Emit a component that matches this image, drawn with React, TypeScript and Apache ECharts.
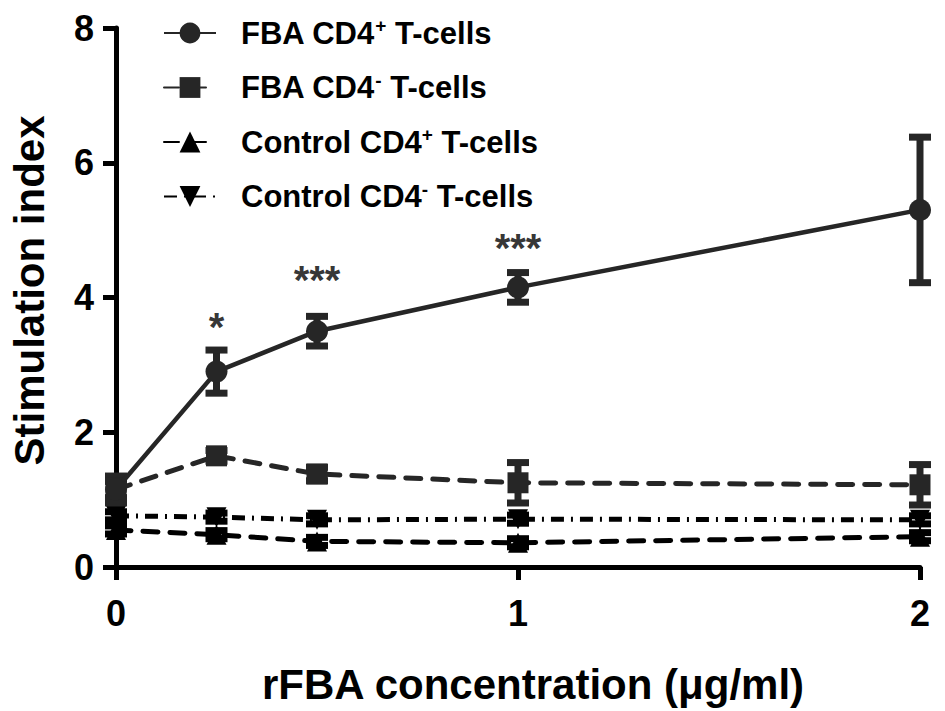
import React, { useEffect, useRef } from "react";
import * as echarts from "echarts";

const concentrations = [0, 0.25, 0.5, 1, 2];
const seriesNames = [
  "FBA CD4+ T-cells",
  "FBA CD4- T-cells",
  "Control CD4+ T-cells",
  "Control CD4- T-cells",
];
const fbaPosMean = [1.15, 2.9, 3.5, 4.15, 5.3];
const fbaPosErr = [0.12, 0.32, 0.22, 0.22, 1.08];
const fbaNegMean = [1.15, 1.65, 1.38, 1.25, 1.22];
const fbaNegErr = [0.2, 0.08, 0.1, 0.3, 0.3];
const ctrlPosMean = [0.55, 0.48, 0.38, 0.36, 0.45];
const ctrlPosErr = [0.06, 0.06, 0.06, 0.06, 0.06];
const ctrlNegMean = [0.76, 0.74, 0.7, 0.71, 0.7];
const ctrlNegErr = [0.06, 0.06, 0.06, 0.06, 0.06];

const sigX = [0.25, 0.5, 1];
const sigY = [3.68, 4.38, 4.86];
const sigLabels = ["*", "***", "***"];

const yTicks = [0, 2, 4, 6, 8];
const xTicks = [0, 1, 2];

const FONT = "Liberation Sans, Arial, Helvetica, sans-serif";

export default function App() {
  const ref = useRef<HTMLDivElement>(null);

  useEffect(() => {
    document.body.style.margin = "0";
    const chart = echarts.init(ref.current!, undefined, { renderer: "svg" });

    const means = [fbaPosMean, fbaNegMean, ctrlPosMean, ctrlNegMean];
    const errs = [fbaPosErr, fbaNegErr, ctrlPosErr, ctrlNegErr];
    const colors = ["#262626", "#262626", "#000000", "#000000"];
    const symbols = ["circle", "rect", "triangle", "triangle"];
    const rotates = [0, 0, 0, 180];
    const sizes = [22, 21, 20, 20];
    const dashes: any[] = ["solid", [15, 12], [15, 12], [13, 7, 2, 7]];
    const caps: any[] = ["butt", "round", "round", "butt"];

    const lineSeries = seriesNames.map((name, i) => ({
      name,
      type: "line",
      data: concentrations.map((c, j) => [c, means[i][j]]),
      symbol: symbols[i],
      symbolRotate: rotates[i],
      symbolSize: sizes[i],
      z: 10 - i,
      itemStyle: { color: colors[i] },
      lineStyle: { color: colors[i], width: i === 0 ? 4.5 : 5, type: dashes[i], cap: caps[i] },
    }));

    const errSeries = seriesNames.map((name, i) => ({
      name: name + " err",
      type: "custom",
      z: 10 - i,
      data: concentrations.map((c, j) => [c, means[i][j], errs[i][j]]),
      renderItem: (params: any, api: any) => {
        const x = api.value(0);
        const y = api.value(1);
        const e = api.value(2);
        const top = api.coord([x, y + e]);
        const bot = api.coord([x, y - e]);
        const hw = 11;
        const style = { stroke: colors[i], lineWidth: 7 };
        return {
          type: "group",
          children: [
            { type: "line", shape: { x1: top[0], y1: top[1], x2: bot[0], y2: bot[1] }, style },
            { type: "line", shape: { x1: top[0] - hw, y1: top[1], x2: top[0] + hw, y2: top[1] }, style },
            { type: "line", shape: { x1: bot[0] - hw, y1: bot[1], x2: bot[0] + hw, y2: bot[1] }, style },
          ],
        };
      },
    }));

    const sigSeries = {
      name: "sig",
      type: "scatter",
      symbolSize: 1,
      itemStyle: { color: "transparent" },
      data: sigX.map((x, i) => ({ value: [x, sigY[i]], label: { formatter: sigLabels[i] } })),
      label: {
        show: true,
        position: "inside",
        offset: [0, 8],
        color: "#000",
        fontFamily: FONT,
        fontWeight: "bold",
        fontSize: 40,
      },
      z: 20,
    };

    const legendRich = {
      sp: { width: 20 },
      t: { fontSize: 31, fontWeight: "bold", fontFamily: FONT, color: "#000" },
      sup: { fontSize: 19, fontWeight: "bold", fontFamily: FONT, color: "#000", padding: [0, 0, 15, 0] },
    };

    chart.setOption({
      animation: false,
      backgroundColor: "#fff",
      grid: { left: 115, right: 25, top: 28, bottom: 144, containLabel: false },
      legend: {
        data: seriesNames,
        orient: "vertical",
        left: 158,
        top: 11,
        itemWidth: 52,
        itemHeight: 26,
        itemGap: 22,
        formatter: (name: string) => {
          const m = name.match(/^(.*CD4)([+-])( .*)$/);
          if (!m) return "{t|" + name + "}";
          return "{sp|}{t|" + m[1] + "}{sup|" + m[2] + "}{t|" + m[3] + "}";
        },
        textStyle: { rich: legendRich, lineHeight: 31 },
      },
      xAxis: {
        type: "value",
        min: 0,
        max: 2,
        interval: 1,
        name: "rFBA concentration (\u03bcg/ml)",
        nameLocation: "middle",
        nameGap: 96,
        nameTextStyle: { fontFamily: FONT, fontSize: 42, fontWeight: "bold", color: "#000", padding: [0, 0, 0, 30] },
        axisLine: { lineStyle: { color: "#000", width: 5 } },
        axisTick: { show: true, length: 13, lineStyle: { color: "#000", width: 5 } },
        axisLabel: {
          fontFamily: FONT,
          fontSize: 36,
          fontWeight: "bold",
          color: "#000",
          margin: 28,
          formatter: (v: number) => (xTicks.includes(v) ? String(v) : ""),
        },
        splitLine: { show: false },
      },
      yAxis: {
        type: "value",
        min: 0,
        max: 8,
        interval: 2,
        name: "Stimulation index",
        nameLocation: "middle",
        nameGap: 66,
        nameTextStyle: { fontFamily: FONT, fontSize: 42, fontWeight: "bold", color: "#000", padding: [0, 0, 0, 14] },
        axisLine: { lineStyle: { color: "#000", width: 5 } },
        axisTick: { show: true, length: 13, lineStyle: { color: "#000", width: 5 } },
        axisLabel: {
          fontFamily: FONT,
          fontSize: 36,
          fontWeight: "bold",
          color: "#000",
          margin: 22,
          formatter: (v: number) => (yTicks.includes(v) ? String(v) : ""),
        },
        splitLine: { show: false },
      },
      series: [...errSeries, ...lineSeries, sigSeries],
    });

    return () => chart.dispose();
  }, []);

  return <div ref={ref} style={{ width: 945, height: 711 }} />;
}
